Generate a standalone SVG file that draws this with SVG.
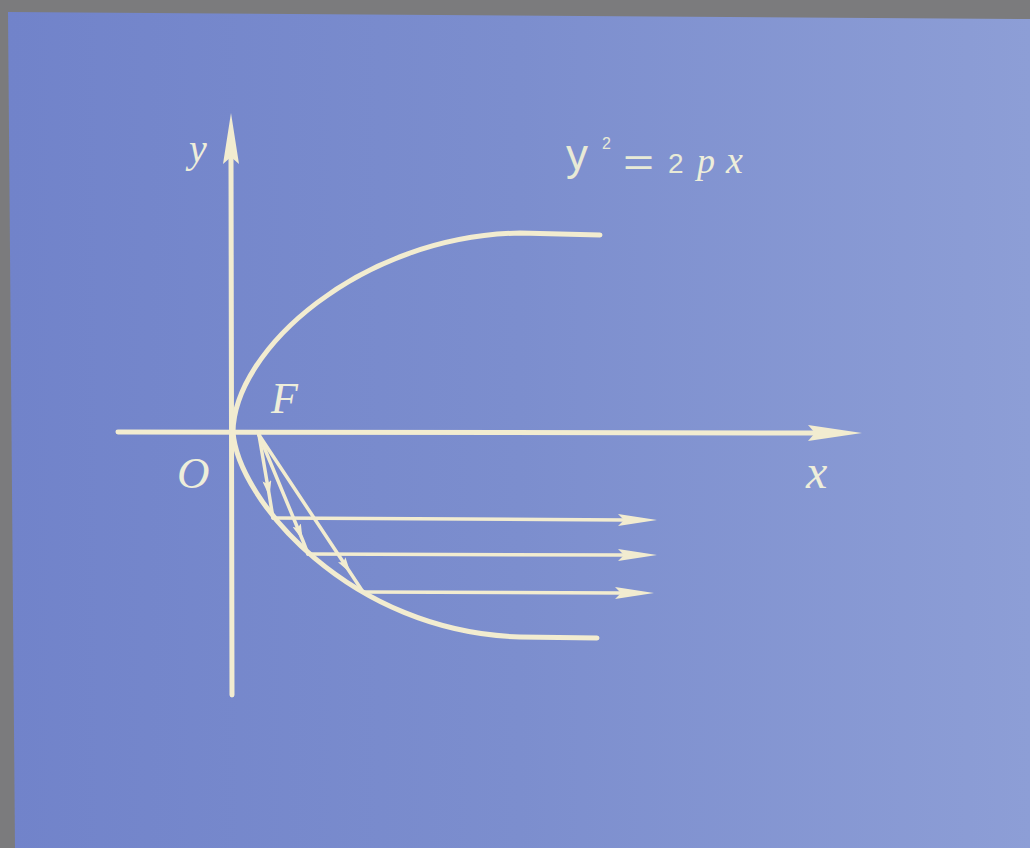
<svg xmlns="http://www.w3.org/2000/svg" width="1030" height="848" viewBox="0 0 1030 848">
  <defs>
    <linearGradient id="paper" x1="0" y1="0" x2="1" y2="0">
      <stop offset="0" stop-color="#7183ca"/>
      <stop offset="0.5" stop-color="#7c8ece"/>
      <stop offset="1" stop-color="#8d9ed6"/>
    </linearGradient>
    <marker id="mid" viewBox="0 0 16 9" refX="16" refY="4.5" markerWidth="16" markerHeight="9" markerUnits="userSpaceOnUse" orient="auto">
      <path d="M0,0 L16,4.5 L0,9 L3,4.5 z" fill="#f2ecd0"/>
    </marker>
    <style>
      .ln { fill: none; stroke: #f2ecd0; stroke-linecap: round; stroke-linejoin: round; }
      .ax { stroke-width: 5; }
      .cv { stroke-width: 5; }
      .ry { stroke-width: 3.5; }
      .hd { fill: #f2ecd0; }
      .lb { font-family: "Liberation Serif", "DejaVu Serif", serif; font-style: italic; fill: #eeeeda; }
      .eq { font-family: "Liberation Sans", "DejaVu Sans", sans-serif; fill: #e8ead6; }
    </style>
  </defs>

  <rect x="0" y="0" width="1030" height="848" fill="#7b7b7d"/>
  <polygon points="8,12 1030,19 1030,848 15,848" fill="url(#paper)"/>

  <g id="axis-x">
    <line class="ln ax" x1="118" y1="432" x2="815" y2="433"/>
    <polygon class="hd" points="862,433 808,425 815,433 808,441"/>
  </g>
  <g id="axis-y">
    <line class="ln ax" x1="232" y1="695" x2="231" y2="158"/>
    <polygon class="hd" points="231,113 239,164 231,157 223,164"/>
  </g>

  <g id="parabola">
    <path class="ln cv" d="M233,432 C234,350 360,236 520,233 L600,235"/>
    <path class="ln cv" d="M233,432 C238,500 350,632 520,637 L597,638"/>
  </g>

  <g id="connectors">
    <polyline class="ln ry" points="259,435 269.5,496.5 273,518" marker-mid="url(#mid)"/>
    <polyline class="ln ry" points="259,435 302.6,540 308,554" marker-mid="url(#mid)"/>
    <polyline class="ln ry" points="259,435 350.5,573 363,592" marker-mid="url(#mid)"/>
    <line class="ln ry" x1="273" y1="518" x2="625" y2="520"/>
    <polygon class="hd" points="657,520 618,514 624,520 618,526"/>
    <line class="ln ry" x1="308" y1="554" x2="625" y2="555"/>
    <polygon class="hd" points="657,555 618,549 624,555 618,561"/>
    <line class="ln ry" x1="363" y1="592" x2="622" y2="593"/>
    <polygon class="hd" points="654,593 615,587 621,593 615,599"/>
  </g>

  <g id="labels">
    <text class="lb" x="189" y="162" font-size="40">y</text>
    <text class="lb" x="271" y="413" font-size="44">F</text>
    <text class="lb" x="177" y="488" font-size="45">O</text>
    <text class="lb" x="806" y="488" font-size="48">x</text>
  </g>

  <g id="equation">
    <text class="eq" x="566" y="170" font-size="44">y</text>
    <text class="eq" x="602" y="149" font-size="16">2</text>
    <text class="eq" transform="translate(623,176) scale(1.4,1)" x="0" y="0" font-size="38">=</text>
    <text class="eq" x="668" y="173" font-size="28">2</text>
    <text class="lb" x="697" y="173" font-size="36">p</text>
    <text class="lb" x="726" y="173" font-size="38">x</text>
  </g>
</svg>
